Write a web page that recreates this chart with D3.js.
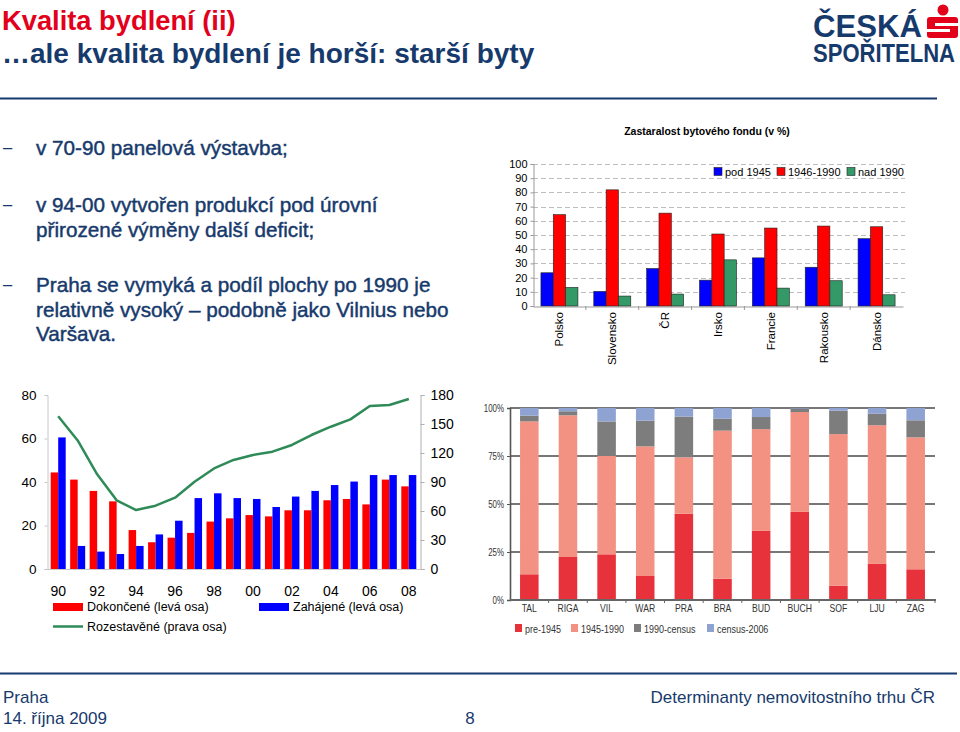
<!DOCTYPE html>
<html><head><meta charset="utf-8">
<script src="https://cdn.jsdelivr.net/npm/d3@7"></script>
<style>
html,body{margin:0;padding:0;background:#fff;}
svg text{font-family:"Liberation Sans",Arial,sans-serif;}
</style></head>
<body>
<svg id="slide" width="960" height="732"></svg>
<script>
// ---------- DATA ----------
// Top-right chart: Zastaralost bytového fondu (v %)
const trCategories = ["Polsko","Slovensko","ČR","Irsko","Francie","Rakousko","Dánsko"];
const trSeriesNames = ["pod 1945","1946-1990","nad 1990"];
const trPod1945 = [23.4,10.3,26.4,18.2,33.9,27.3,47.4];
const tr1946to1990 = [64.3,81.8,65.4,50.7,54.9,56.3,55.8];
const trNad1990 = [13.1,7.0,8.4,32.5,12.6,17.8,7.9];
const trTicks = [0,10,20,30,40,50,60,70,80,90,100];

// Bottom-left chart: housing construction
const blYears = ["90","91","92","93","94","95","96","97","98","99","00","01","02","03","04","05","06","07","08"];
const blTickLabels = ["90","92","94","96","98","00","02","04","06","08"];
const blDokoncene = [44.4,41.1,35.9,31.1,17.9,12.3,14.4,16.6,21.8,23.3,24.8,24.2,27.0,27.0,31.6,32.2,29.7,41.1,38.0];
const blZahajene = [60.5,10.6,8.0,6.9,10.6,15.9,22.2,32.6,34.8,32.6,32.2,28.5,33.3,35.9,38.6,40.2,43.2,43.2,43.2];
const blRozestavene = [158,133,98,71,61,65.5,73.8,90.3,104,112.8,118,121.4,128.3,138.6,147.2,154.8,168.6,169.7,175.9];
const blLeftTicks = [0,20,40,60,80];
const blRightTicks = [0,30,60,90,120,150,180];
const blLegend = ["Dokončené (levá osa)","Zahájené (levá osa)","Rozestavěné (prava osa)"];

// Bottom-right chart: housing stock age by city (%)
const brCities = ["TAL","RIGA","VIL","WAR","PRA","BRA","BUD","BUCH","SOF","LJU","ZAG"];
const brPre1945 = [13.4,22.4,23.8,12.5,44.9,11.1,36.0,45.9,7.5,18.8,16.0];
const br1945to1990 = [79.6,73.8,51.3,67.5,29.4,77.1,53.0,52.0,78.9,72.2,68.7];
const br1990toCensus = [3.0,2.1,17.9,13.4,21.2,6.2,6.3,1.8,12.2,6.0,8.9];
const brCensusTo2006 = [4.0,1.7,7.0,6.6,4.5,5.6,4.7,0.3,1.4,3.0,6.4];
const brSeriesNames = ["pre-1945","1945-1990","1990-census","census-2006"];
const brTicks = [0,25,50,75,100];

// Slide texts
const titleLine1 = "Kvalita bydlení (ii)";
const titleLine2 = "…ale kvalita bydlení je horší: starší byty";
const bullets = [
  ["v 70-90 panelová výstavba;"],
  ["v 94-00 vytvořen produkcí pod úrovní","přirozené výměny další deficit;"],
  ["Praha se vymyká a podíl plochy po 1990 je","relativně vysoký – podobně jako Vilnius nebo","Varšava."]
];

// ---------- DRAW ----------
const NAVY = "#173a6c";
const svg = d3.select("#slide");
function condense(sel, f){
  sel.each(function(){
    const w = this.getComputedTextLength();
    d3.select(this).attr("textLength", w*f).attr("lengthAdjust","spacingAndGlyphs");
  });
  return sel;
}

// Title
svg.append("text").attr("x",2).attr("y",30).attr("fill","#e3001b")
  .attr("font-size",27.3).attr("font-weight","bold").text(titleLine1);
svg.append("text").attr("x",2).attr("y",63).attr("fill",NAVY)
  .attr("font-size",28).attr("font-weight","bold").text(titleLine2);

// Logo
const logo = svg.append("g");
logo.append("text").attr("x",813).attr("y",37).attr("fill",NAVY).attr("font-size",32)
  .attr("font-weight","bold").attr("textLength",109).attr("lengthAdjust","spacingAndGlyphs").text("ČESKÁ");
logo.append("text").attr("x",813).attr("y",62).attr("fill",NAVY).attr("font-size",26)
  .attr("font-weight","bold").attr("textLength",142).attr("lengthAdjust","spacingAndGlyphs").text("SPOŘITELNA");
logo.append("circle").attr("cx",943).attr("cy",10).attr("r",5.5).attr("fill","#e3001b");
logo.append("rect").attr("x",927).attr("y",17).attr("width",31).attr("height",21).attr("rx",3).attr("fill","#e3001b");
logo.append("rect").attr("x",935).attr("y",23).attr("width",23).attr("height",3).attr("fill","#fff");
logo.append("rect").attr("x",927).attr("y",29).attr("width",23).attr("height",3).attr("fill","#fff");

// Header / footer lines
svg.append("line").attr("x1",0).attr("x2",937).attr("y1",98.5).attr("y2",98.5).attr("stroke",NAVY).attr("stroke-width",2);
svg.append("line").attr("x1",0).attr("x2",957).attr("y1",673.5).attr("y2",673.5).attr("stroke",NAVY).attr("stroke-width",2);

// Footer
const ff = "'Liberation Sans',Arial,sans-serif";
const foot = [
  {x:3,y:703,a:"start",t:"Praha"},
  {x:3,y:724,a:"start",t:"14. října 2009"},
  {x:470,y:724,a:"middle",t:"8"},
  {x:935,y:703,a:"end",t:"Determinanty nemovitostního trhu ČR"}
];
foot.forEach(f=>{
  svg.append("text").attr("x",f.x).attr("y",f.y).attr("fill",NAVY).attr("font-size",17)
    .attr("text-anchor",f.a).text(f.t);
});

// Bullets
const lineY = [[155],[211.5,236.5],[291.5,316.5,341]];
bullets.forEach((b,i)=>{
  svg.append("text").attr("x",2).attr("y",lineY[i][0]).attr("fill",NAVY).attr("font-size",19).text("−");
  b.forEach((ln,j)=>{
    svg.append("text").attr("x",36).attr("y",lineY[i][j]).attr("fill",NAVY).attr("font-size",20.7)
      .attr("stroke",NAVY).attr("stroke-width",0.45).text(ln);
  });
});

// ---------- Top-right grouped bar chart ----------
(function(){
  const g = svg.append("g");
  const x0 = d3.scaleBand().domain(trCategories).range([533,903]).paddingInner(0.3).paddingOuter(0.15);
  const x1 = d3.scaleBand().domain(trSeriesNames).range([0,x0.bandwidth()]);
  const y = d3.scaleLinear().domain([0,100]).range([306,164]);
  const colors = ["#0000ff","#ff0000","#339966"];
  const series = [trPod1945,tr1946to1990,trNad1990];

  g.append("text").attr("x",707).attr("y",135).attr("text-anchor","middle").attr("font-size",10.5)
    .attr("font-weight","bold").attr("fill","#000").text("Zastaralost bytového fondu (v %)");

  g.selectAll("line.grid").data(trTicks.filter(d=>d>0)).join("line")
    .attr("x1",533).attr("x2",905).attr("y1",d=>Math.round(y(d))+0.5).attr("y2",d=>Math.round(y(d))+0.5)
    .attr("stroke","#bdbdbd").attr("stroke-dasharray","5,3");

  const ya = d3.axisLeft(y).tickValues(trTicks).tickSize(3).tickPadding(3);
  const yg = g.append("g").attr("transform","translate(533.5,0)").call(ya);
  yg.select(".domain").attr("stroke","#999");
  yg.selectAll(".tick line").attr("stroke","#999");
  yg.selectAll("text").attr("font-size",11).attr("fill","#000").style("font-family",ff);

  const xa = d3.axisBottom(x0).tickSize(0).tickFormat("");
  const xg = g.append("g").attr("transform","translate(0,306.5)").call(xa);
  xg.select(".domain").attr("stroke","#999");
  g.selectAll("line.xt").data(trCategories.slice(1)).join("line")
    .attr("x1",d=>x0(d)-x0.step()*x0.paddingInner()/2).attr("x2",d=>x0(d)-x0.step()*x0.paddingInner()/2)
    .attr("y1",306).attr("y2",310).attr("stroke","#999");

  trCategories.forEach((c,i)=>{
    const gg = g.append("g").attr("transform",`translate(${x0(c)},0)`);
    series.forEach((s,k)=>{
      gg.append("rect").attr("x",x1(trSeriesNames[k])).attr("y",y(s[i]))
        .attr("width",x1.bandwidth()).attr("height",y(0)-y(s[i]))
        .attr("fill",colors[k]).attr("stroke","#222").attr("stroke-width",0.6);
    });
    g.append("text").attr("transform",`translate(${x0(c)+x0.bandwidth()/2+4},312) rotate(-90)`)
      .attr("text-anchor","end").attr("font-size",11.5).attr("fill","#000").text(c);
  });

  const lx = [714,777,847];
  trSeriesNames.forEach((n,k)=>{
    g.append("rect").attr("x",lx[k]).attr("y",167.5).attr("width",8).attr("height",8)
      .attr("fill",colors[k]).attr("stroke","#222").attr("stroke-width",0.6);
    g.append("text").attr("x",lx[k]+11).attr("y",175.5).attr("font-size",11).attr("fill","#000").text(n);
  });
})();

// ---------- Bottom-left combo chart ----------
(function(){
  const g = svg.append("g");
  const x = d3.scaleBand().domain(blYears).range([47,420]).paddingInner(0.23).paddingOuter(0.19);
  const xs = d3.scaleBand().domain(["d","z"]).range([0,x.bandwidth()]);
  const yL = d3.scaleLinear().domain([0,80]).range([569,395]);
  const yR = d3.scaleLinear().domain([0,180]).range([569,395]);

  const la = d3.axisLeft(yL).tickValues(blLeftTicks).tickSize(3).tickPadding(8);
  const lg = g.append("g").attr("transform","translate(47.5,0)").call(la);
  lg.select(".domain").attr("stroke","#c8c8c8");
  lg.selectAll(".tick line").attr("stroke","#c8c8c8");
  lg.selectAll("text").attr("font-size",13.5).attr("fill","#000").style("font-family",ff);

  const ra = d3.axisRight(yR).tickValues(blRightTicks).tickSize(4).tickPadding(6);
  const rg = g.append("g").attr("transform","translate(420.5,0)").call(ra);
  rg.select(".domain").attr("stroke","#b0b0b0");
  rg.selectAll(".tick line").attr("stroke","#b0b0b0");
  rg.selectAll("text").attr("font-size",14).attr("fill","#000").style("font-family",ff);

  g.append("line").attr("x1",47).attr("x2",420).attr("y1",569.5).attr("y2",569.5).attr("stroke","#c8c8c8");

  g.selectAll("rect.d").data(blYears).join("rect")
    .attr("x",(d)=>x(d)+xs("d")).attr("width",xs.bandwidth())
    .attr("y",(d,i)=>yL(blDokoncene[i])).attr("height",(d,i)=>yL(0)-yL(blDokoncene[i])).attr("fill","#ff0000");
  g.selectAll("rect.z").data(blYears).join("rect")
    .attr("x",(d)=>x(d)+xs("z")).attr("width",xs.bandwidth())
    .attr("y",(d,i)=>yL(blZahajene[i])).attr("height",(d,i)=>yL(0)-yL(blZahajene[i])).attr("fill","#0000ff");

  const line = d3.line().x((d,i)=>x(blYears[i])+x.bandwidth()/2).y(d=>yR(d));
  g.append("path").datum(blRozestavene).attr("d",line).attr("fill","none")
    .attr("stroke","#2e8b57").attr("stroke-width",2.5).attr("stroke-linejoin","round");

  blTickLabels.forEach(t=>{
    g.append("text").attr("x",x(t)+x.bandwidth()/2).attr("y",596).attr("text-anchor","middle")
      .attr("font-size",14).attr("fill","#000").text(t);
  });

  g.append("rect").attr("x",53).attr("y",603).attr("width",30).attr("height",8).attr("fill","#ff0000");
  g.append("text").attr("x",87).attr("y",611).attr("font-size",12.5).attr("fill","#000").text(blLegend[0]);
  g.append("rect").attr("x",259).attr("y",603).attr("width",30).attr("height",8).attr("fill","#0000ff");
  g.append("text").attr("x",293).attr("y",611).attr("font-size",12.5).attr("fill","#000").text(blLegend[1]);
  g.append("line").attr("x1",53).attr("x2",83).attr("y1",626.5).attr("y2",626.5).attr("stroke","#2e8b57").attr("stroke-width",2.5);
  g.append("text").attr("x",87).attr("y",631).attr("font-size",12.5).attr("fill","#000").text(blLegend[2]);
})();

// ---------- Bottom-right stacked chart ----------
(function(){
  const g = svg.append("g");
  const x = d3.scaleBand().domain(brCities).range([510,935]).paddingInner(0.52).paddingOuter(0.26);
  const y = d3.scaleLinear().domain([0,100]).range([600,408]);
  const colors = ["#e8323b","#f39183","#7d7d7d","#8ea3d2"];
  const rows = brCities.map((c,i)=>({city:c,"pre-1945":brPre1945[i],"1945-1990":br1945to1990[i],
    "1990-census":br1990toCensus[i],"census-2006":brCensusTo2006[i]}));
  const stack = d3.stack().keys(brSeriesNames)(rows);

  g.selectAll("line.grid").data(brTicks.filter(d=>d>0)).join("line")
    .attr("x1",510).attr("x2",935).attr("y1",d=>y(d)).attr("y2",d=>y(d))
    .attr("stroke","#4a4a4a").attr("stroke-width",1.6);

  stack.forEach((s,k)=>{
    g.selectAll(null).data(s).join("rect")
      .attr("x",d=>x(d.data.city)).attr("width",x.bandwidth())
      .attr("y",d=>y(d[1])).attr("height",d=>y(d[0])-y(d[1])).attr("fill",colors[k]);
  });

  const ya = d3.axisLeft(y).tickValues(brTicks).tickFormat(d=>d+"%").tickSize(3).tickPadding(3);
  const yg = g.append("g").attr("transform","translate(510,0)").call(ya);
  yg.select(".domain").attr("stroke","#555").attr("stroke-width",1.6);
  yg.selectAll(".tick line").attr("stroke","#555");
  condense(yg.selectAll("text").attr("font-size",11).attr("fill","#333").style("font-family",ff), 0.72);

  g.append("line").attr("x1",510).attr("x2",936).attr("y1",600).attr("y2",600).attr("stroke","#666").attr("stroke-width",1.8);
  g.selectAll("line.xt").data(brCities).join("line")
    .attr("x1",d=>x(d)+x.bandwidth()+x.step()*x.paddingInner()/2)
    .attr("x2",d=>x(d)+x.bandwidth()+x.step()*x.paddingInner()/2)
    .attr("y1",600).attr("y2",603).attr("stroke","#666");

  brCities.forEach(c=>{
    condense(g.append("text").attr("x",x(c)+x.bandwidth()/2).attr("y",612).attr("text-anchor","middle")
      .attr("font-size",11.5).attr("fill","#333").text(c), 0.75);
  });

  const lx = [515,571,634,707];
  brSeriesNames.forEach((n,k)=>{
    g.append("rect").attr("x",lx[k]).attr("y",624).attr("width",7).attr("height",8).attr("fill",colors[k]);
    condense(g.append("text").attr("x",lx[k]+10).attr("y",632.5).attr("font-size",11.5).attr("fill","#333").text(n), 0.78);
  });
})();
</script>
</body></html>
